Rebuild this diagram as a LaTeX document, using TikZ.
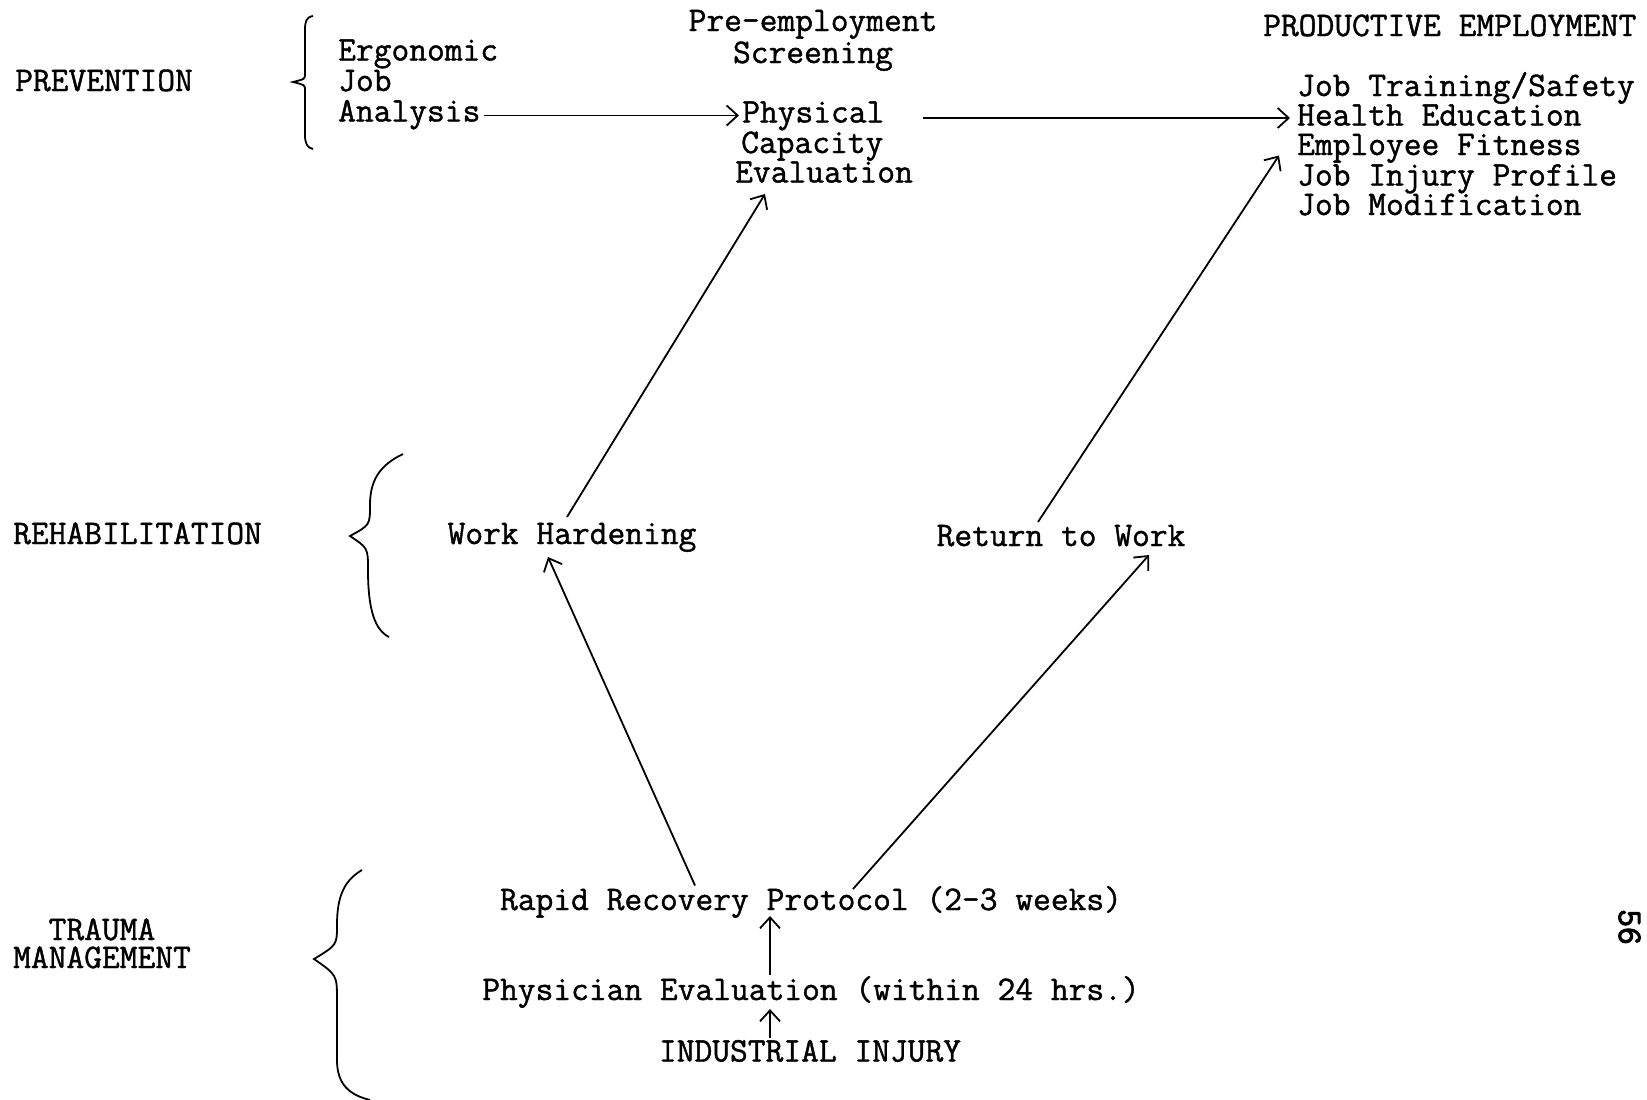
\documentclass[tikz,border=0pt]{standalone}
\usepackage{fontspec}
\setmonofont{Latin Modern Mono}[FakeBold=1.2]
\newfontfamily\pagenofont{Latin Modern Mono}[FakeBold=3]
\usetikzlibrary{arrows.meta}
\begin{document}
\begin{tikzpicture}[x=1pt,y=-1pt,
  txt/.style={font=\fontsize{34.5}{34.5}\selectfont\ttfamily, inner sep=0pt, text height=20pt, text depth=6pt},
  lbl/.style={txt, anchor=base west},
  ctr/.style={txt, anchor=base},
  arr/.style={line width=1.8pt, -{Straight Barb[length=11pt,width=20pt,line width=1.8pt]}},
  brace/.style={line width=1.8pt},
]
\useasboundingbox[fill=white] (0,0) rectangle (1647,1100);

% Left labels
\node[lbl] (prev) at (15,91) {PREVENTION};
\node[lbl] (rehab) at (13,544) {REHABILITATION};
\node[ctr] (trauma) at (102,940) {TRAUMA};
\node[ctr] (mgmt) at (102,968) {MANAGEMENT};

% Prevention block
\node[lbl] (ergo) at (338,60.5) {Ergonomic};
\node[lbl] (job) at (338,91) {Job};
\node[lbl] (analysis) at (338,121.5) {Analysis};
\node[ctr] (pre) at (813,31) {Pre-employment};
\node[ctr] (screen) at (813,63) {Screening};
\node[lbl] (physical) at (742,122.5) {Physical};
\node[lbl] (capacity) at (741,153) {Capacity};
\node[lbl] (eval) at (735,182.5) {Evaluation};

% Productive employment
\node[lbl] (prod) at (1263,36) {PRODUCTIVE EMPLOYMENT};
\node[lbl] (train) at (1297,96) {Job Training/Safety};
\node[lbl] (health) at (1297,125.5) {Health Education};
\node[lbl] (fit) at (1297,155) {Employee Fitness};
\node[lbl] (profile) at (1297,185.5) {Job Injury Profile};
\node[lbl] (modif) at (1297,215) {Job Modification};

% Rehabilitation
\node[ctr] (wh) at (572,544) {Work Hardening};
\node[ctr] (rtw) at (1061,546) {Return to Work};

% Trauma management
\node[ctr] (rapid) at (811,910) {Rapid Recovery Protocol (2-3 weeks)};
\node[ctr] (phys) at (811,1000) {Physician Evaluation (within 24 hrs.)};
\node[ctr] (injury) at (810,1061.5) {INDUSTRIAL INJURY};

% Page number
\node[txt, font=\fontsize{34.5}{34.5}\selectfont\pagenofont, rotate=-90] (page) at (1626,927) {56};

% Braces
\draw[brace] (313,16) .. controls (306,17) and (305,22) .. (305,30) -- (305,74)
  .. controls (305,79) .. (293,82) .. controls (305,85) .. (305,90) -- (305,135)
  .. controls (305,143) and (307,148) .. (313,149);
\draw[brace] (403,454) .. controls (380,465) and (370,480) .. (370,505)
  .. controls (370,525) .. (350,536) .. controls (368,548) .. (368,570)
  .. controls (368,610) and (375,630) .. (389,637);
\draw[brace] (362,870) .. controls (345,880) and (337,895) .. (337,925)
  .. controls (337,945) .. (314,959) .. controls (337,975) .. (337,1000) -- (337,1060)
  .. controls (337,1085) and (350,1095) .. (370,1100);

% Arrows
\draw[arr] ([xshift=3pt,yshift=6pt]analysis.base east) -- ([xshift=-3pt,yshift=7pt]physical.base west);
\draw[arr] ([xshift=38pt,yshift=4.5pt]physical.base east) -- ([xshift=-7pt,yshift=7.5pt]health.base west);
\draw[arr] ([xshift=-5pt,yshift=27pt]wh.base) -- ([xshift=30pt,yshift=-11.5pt]eval.base west);
\draw[arr] ([xshift=-23pt,yshift=24pt]rtw.base) -- ([xshift=-18pt,yshift=-0.5pt]fit.base west);
\draw[arr] ([xshift=-116pt,yshift=24.5pt]rapid.base) -- ([xshift=-24pt,yshift=-13pt]wh.base);
\draw[arr] ([xshift=42pt,yshift=21pt]rapid.base) -- ([xshift=88pt,yshift=-9pt]rtw.base);
\draw[arr] ([xshift=-41pt,yshift=25pt]phys.base) -- ([xshift=-41pt,yshift=-6pt]rapid.base);
\draw[arr] ([xshift=-40pt,yshift=23.5pt]injury.base) -- ([xshift=-41pt,yshift=-9pt]phys.base);
\end{tikzpicture}
\end{document}
